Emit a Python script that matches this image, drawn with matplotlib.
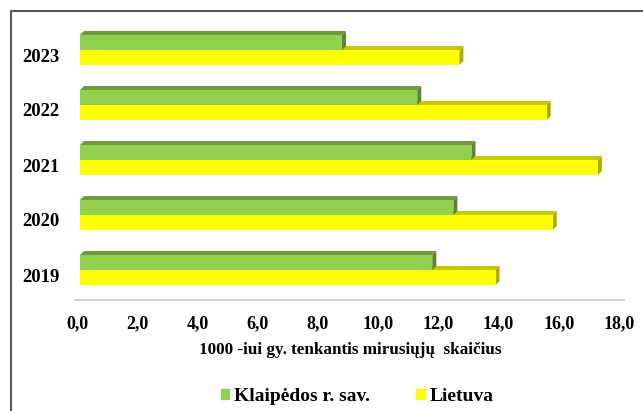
import numpy as np
import matplotlib
matplotlib.use("Agg")
import matplotlib.pyplot as plt
from matplotlib.patches import Polygon, Patch
from matplotlib.lines import Line2D
from matplotlib.transforms import ScaledTranslation

# data
years = ["2019", "2020", "2021", "2022", "2023"]
klaipeda = [11.7, 12.4, 13.0, 11.2, 8.7]
lietuva = [13.8, 15.7, 17.2, 15.5, 12.6]
xticks = [0, 2, 4, 6, 8, 10, 12, 14, 16, 18]
series_names = ["Klaipėdos r. sav.", "Lietuva"]
xlabel = "1000 -iui gy. tenkantis mirusiųjų  skaičius"

GREEN = "#92d050"
GREEN_TOP = "#6f9a40"
GREEN_SIDE = "#5c8533"
YELLOW = "#ffff00"
YELLOW_TOP = "#c9c900"
YELLOW_SIDE = "#adad00"

plt.rcParams["font.family"] = ["Liberation Serif", "DejaVu Serif"]
plt.rcParams["font.weight"] = "bold"

W, H = 643, 411
fig = plt.figure(figsize=(W / 100, H / 100), dpi=100)
ax = fig.add_axes([80 / W, 1 - 297.5 / H, (622 - 80) / W, 275 / H])
ax.set_xlim(0, 18)
ax.set_ylim(-0.5, len(years) - 0.5)

bh = 15 / 55
# 3d depth of the bars, 4 px right and up, in data units
dx = 4 / (542 / 18)
dy = 4 / 55


def bar3d(y, v, front, top, side):
    y0, y1 = y - bh / 2, y + bh / 2
    ax.add_patch(Polygon([(0, y1), (v, y1), (v + dx, y1 + dy), (dx, y1 + dy)],
                         closed=True, facecolor=top, edgecolor="none"))
    ax.add_patch(Polygon([(v, y0), (v, y1), (v + dx, y1 + dy), (v + dx, y0 + dy)],
                         closed=True, facecolor=side, edgecolor="none"))
    ax.barh(y, v, height=bh, color=front, edgecolor="none")


ypos = np.arange(len(years))
for i in ypos:
    bar3d(i - bh / 2, lietuva[i], YELLOW, YELLOW_TOP, YELLOW_SIDE)
    bar3d(i + bh / 2, klaipeda[i], GREEN, GREEN_TOP, GREEN_SIDE)

for s in ax.spines.values():
    s.set_visible(False)
ax.set_yticks(ypos)
ax.set_yticklabels(years, fontsize=13.5, fontweight="bold")
ax.set_xticks(xticks)
ax.set_xticklabels([f"{t:.1f}".replace(".", ",") for t in xticks],
                   fontsize=13, fontweight="bold")
ax.tick_params(axis="both", length=0)
ax.tick_params(axis="x", pad=13)
ax.tick_params(axis="y", pad=15)

# labels in the original sit a little off the bar centres
for lab in ax.get_yticklabels():
    lab.set_transform(lab.get_transform() + ScaledTranslation(0, -0.05, fig.dpi_scale_trans))
for lab in ax.get_xticklabels():
    lab.set_transform(lab.get_transform() + ScaledTranslation(-0.03, 0, fig.dpi_scale_trans))

# floor line
fig.add_artist(Line2D([75 / W, 624 / W], [1 - 300 / H] * 2,
                      color="#b7d1ee", lw=1.2))
# chart frame (left and top edges visible)
fig.add_artist(Line2D([11 / W, 11 / W, 1], [0, 1 - 11 / H, 1 - 11 / H],
                      color="#595959", lw=1.5))

fig.text(350 / W, 1 - 350 / H, xlabel, ha="center", va="center",
         fontsize=12.3, fontweight="bold")

handles = [Patch(color=GREEN), Patch(color=YELLOW)]
fig.legend(handles, series_names, loc="center",
           bbox_to_anchor=(357 / W, 1 - 396 / H), ncol=2, frameon=False,
           handlelength=0.42, handleheight=0.42, handletextpad=0.25,
           columnspacing=2.4, prop={"size": 14, "weight": "bold"})

fig.savefig("out.png", dpi=100)
